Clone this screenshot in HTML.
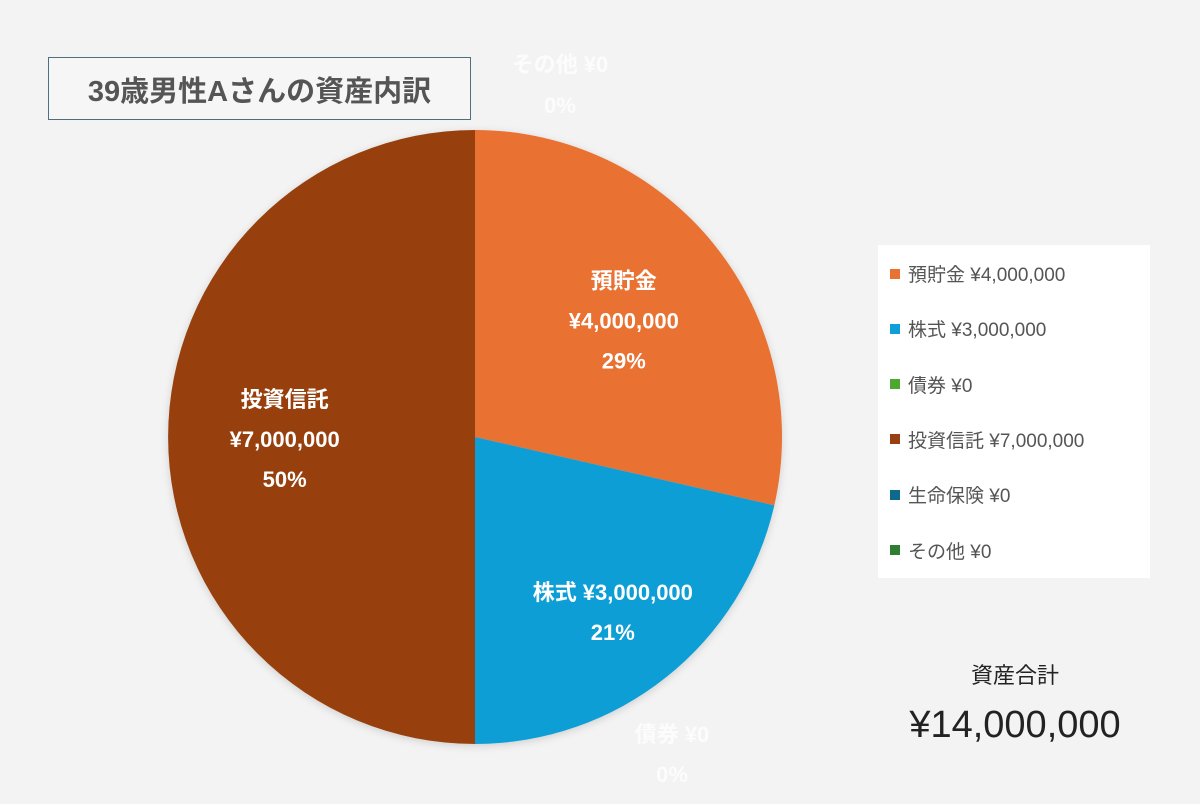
<!DOCTYPE html>
<html><head><meta charset="utf-8"><style>
body{margin:0;width:1200px;height:804px;background:#f3f3f3;font-family:"Liberation Sans","Noto Sans CJK JP",sans-serif;overflow:hidden;position:relative}
.title{position:absolute;left:48px;top:57px;width:423px;height:63px;border:1.5px solid #4f6f80;box-sizing:border-box;font-size:29px;font-weight:bold;color:#555;display:flex;align-items:center;justify-content:center;background:#f6f6f6}
.legend{position:absolute;left:878px;top:245px;width:272px;height:333px;background:#fff}
.li{position:absolute;left:12px;font-size:19px;color:#555;display:flex;align-items:center}
.li i{display:inline-block;width:10px;height:10px;margin-right:8px}
.tot{position:absolute;left:880px;width:270px;text-align:center;color:#222}
</style></head><body>
<div class="title">39歳男性Aさんの資産内訳</div>
<svg id="pie" width="1200" height="804" style="position:absolute;left:0;top:0">
<defs><filter id="sh" x="-10%" y="-10%" width="120%" height="120%"><feDropShadow dx="0" dy="2" stdDeviation="4" flood-color="#000" flood-opacity="0.15"/></filter></defs>
<g id="slices" filter="url(#sh)"></g><g id="labels"></g></svg>
<div class="legend" id="legend"></div>
<div class="tot" style="top:658px;font-size:22px">資産合計</div>
<div class="tot" style="top:704px;font-size:38px">¥14,000,000</div>
<script>
const categories=["預貯金","株式","債券","投資信託","生命保険","その他"];
const values=[4000000,3000000,0,7000000,0,0];
const colors=["#e97132","#0f9ed5","#4ea72e","#974011","#0e6a8c","#2e7d32"];
const cx=475,cy=437,r=307;
const total=values.reduce((a,b)=>a+b,0);
const ns="http://www.w3.org/2000/svg";
const fmt=v=>"¥"+v.toLocaleString("en-US");
const sg=document.getElementById("slices"),lg=document.getElementById("labels");
function pt(a,rr){return [cx+rr*Math.sin(a),cy-rr*Math.cos(a)];}
let a0=0;
const labelPos={0:[0.62,null],1:[0.72,null],3:[0.62,null]};
values.forEach((v,i)=>{
  const a1=a0+v/total*2*Math.PI;
  if(v>0){
    const p=document.createElementNS(ns,"path");
    const [x0,y0]=pt(a0,r),[x1,y1]=pt(a1,r);
    p.setAttribute("d",`M${cx},${cy}L${x0},${y0}A${r},${r} 0 ${a1-a0>Math.PI?1:0} 1 ${x1},${y1}Z`);
    p.setAttribute("fill",colors[i]);
    
    
    sg.appendChild(p);
    const am=(a0+a1)/2;const [lx,ly]=pt(am,r*(labelPos[i]?labelPos[i][0]:0.6));
    const t=document.createElementNS(ns,"text");
    t.setAttribute("text-anchor","middle");t.setAttribute("fill","#fff");
    t.setAttribute("font-size","22");t.setAttribute("font-weight","bold");
    
    
    const lines=i===1?[categories[i]+" "+fmt(v),Math.round(v/total*100)+"%"]:[categories[i],fmt(v),Math.round(v/total*100)+"%"];
    const off=i===1?-10:-30;
    lines.forEach((s,k)=>{const ts=document.createElementNS(ns,"tspan");ts.setAttribute("x",lx);ts.setAttribute("y",ly+off+k*40);ts.textContent=s;t.appendChild(ts);});
    lg.appendChild(t);
  }
  a0=a1;
});
// faint zero labels
[["その他 ¥0",560,72],["0%",560,113],["債券 ¥0",672,742],["0%",672,782]].forEach(([s,x,y])=>{
  const t=document.createElementNS(ns,"text");t.setAttribute("x",x);t.setAttribute("y",y);
  t.setAttribute("text-anchor","middle");t.setAttribute("fill","#fff");t.setAttribute("font-size","22");t.setAttribute("font-weight","bold");t.setAttribute("opacity","0.8");
  
  
  t.textContent=s;lg.appendChild(t);});
const leg=document.getElementById("legend");
categories.forEach((c,i)=>{
  const d=document.createElement("div");d.className="li";d.style.top=(15+i*55.3)+"px";
  
  
  d.innerHTML=`<i style="background:${colors[i]}"></i>${c} ${fmt(values[i])}`;
  leg.appendChild(d);});
</script>
</body></html>
